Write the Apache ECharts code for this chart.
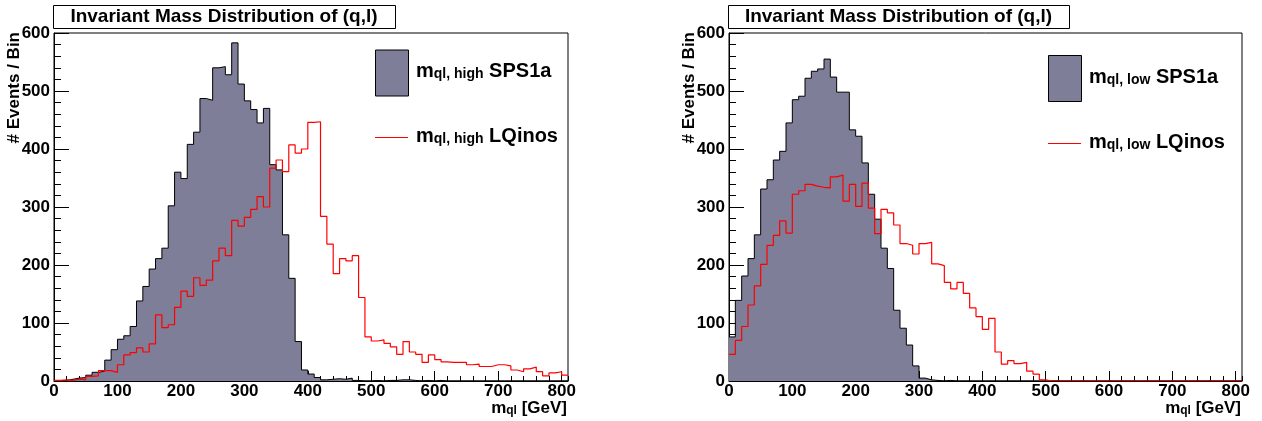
<!DOCTYPE html>
<html><head><meta charset="utf-8">
<script src="https://cdn.jsdelivr.net/npm/echarts@6/dist/echarts.min.js"></script>
<style>html,body{margin:0;padding:0;background:#fff}#c{width:1262px;height:421px}</style>
</head><body><div id="c"></div>
<script>
// ---- data (events per 10 GeV bin, bins start at 0 GeV) ----
const BIN_WIDTH = 10;
const X_MAX = 810;
const TITLE = 'Invariant Mass Distribution of (q,l)';
const Y_TITLE = '# Events / Bin';

const highSPS1a = [0,1,3,5,6,10,15,17,36,54, 72,78,94,138,163,193,211,229,302,360,
  349,408,429,487,484,540,542,528,583,512, 483,468,445,470,373,364,252,177,68,19,
  12,6,2,3,4,3,5,1,0,0, 1,0,1,1,2,2,1,0,1,0, 1,0,0,0,0,0,0,0,0,0, 0,0,0,0,0,0,0,0,0,0,0];
const highLQinos = [1,2,1,3,2,8,9,18,18,15, 28,45,49,57,50,64,114,92,97,127,
  155,146,178,165,174,207,229,216,277,267, 282,296,318,300,367,381,361,407,393,400,
  446,447,284,236,185,211,207,216,144,76, 69,71,65,59,46,68,50,46,32,45,
  37,33,32,32,32,28,29,25,25,28, 28,26,19,16,21,24,16,9,14,16,10];
const lowSPS1a = [76,139,181,211,252,331,347,381,396,445, 485,491,522,534,538,555,524,498,498,433,
  422,376,322,279,229,194,122,91,62,26, 5,2,1,0,1,0,0,0,0,0, 0,0,0,0,0,0,0,0,0,0,
  0,0,0,0,0,0,0,0,0,0, 0,0,0,0,0,0,0,0,0,0, 0,0,0,0,0,0,0,0,0,0,0];
const lowLQinos = [46,70,94,131,164,201,234,251,276,255, 322,328,339,336,334,333,352,355,310,339,
  301,341,298,254,296,290,269,237,234,219, 237,239,202,199,170,159,170,151,126,111,
  89,108,50,29,35,30,32,17,12,2, 0,0,0,0,0,0,0,0,0,0, 0,0,0,0,0,0,0,0,0,0, 0,0,0,0,0,0,0,0,0,0,0];

const GRAY = '#7e7e98';
const RED = '#ff0000';
const FONT = '"Liberation Sans", Arial, Helvetica, sans-serif';

function toSteps(vals){
  const pts = vals.map((v,i)=>[i*BIN_WIDTH, v]);
  pts.push([vals.length*BIN_WIDTH, vals[vals.length-1]]);
  return pts;
}

const grids = [
  {left:54, top:33, width:514, height:348},
  {left:729, top:33, width:513, height:348}
].map(g => Object.assign(g, {show:true, borderColor:'#000', borderWidth:1, backgroundColor:'#fff', containLabel:false}));

const xAxis = [], yAxis = [];
[0,1].forEach(gi => {
  xAxis.push({type:'value', gridIndex:gi, min:0, max:X_MAX, interval:100, position:'bottom',
    axisLine:{show:true, onZero:false, lineStyle:{color:'#000', width:1}},
    axisTick:{show:true, inside:true, length:10, lineStyle:{color:'#000', width:1}},
    axisLabel:{color:'#000', fontFamily:FONT, fontWeight:'bold', fontSize:17, margin:2,
      showMaxLabel:false, formatter: v => (v % 100 === 0 ? String(v) : '')},
    splitLine:{show:false}});
  xAxis.push({type:'value', gridIndex:gi, min:0, max:X_MAX, interval:20, position:'bottom', offset:0,
    axisLine:{show:false}, axisTick:{show:true, inside:true, length:5, lineStyle:{color:'#000', width:1}},
    axisLabel:{show:false}, splitLine:{show:false}});
  yAxis.push({type:'value', gridIndex:gi, min:0, max:600, interval:100,
    axisLine:{show:true, onZero:false, lineStyle:{color:'#000', width:1}},
    axisTick:{show:true, inside:true, length:15, lineStyle:{color:'#000', width:1}},
    minorTick:{show:true, splitNumber:5, length:7, lineStyle:{color:'#000', width:1}},
    axisLabel:{color:'#000', fontFamily:FONT, fontWeight:'bold', fontSize:17, margin:4},
    splitLine:{show:false}, minorSplitLine:{show:false}});
});

function histFilled(vals, gi){
  return {type:'line', xAxisIndex:gi*2, yAxisIndex:gi, data:toSteps(vals), step:'end', symbol:'none',
    showSymbol:false, lineStyle:{color:'#000', width:1}, areaStyle:{color:GRAY, opacity:1}, z:2, silent:true};
}
function histLine(vals, gi){
  return {type:'line', xAxisIndex:gi*2, yAxisIndex:gi, data:toSteps(vals), step:'end', symbol:'none',
    showSymbol:false, lineStyle:{color:RED, width:1.2}, z:3, silent:true};
}

function titleBox(x, w){
  return [
    {type:'rect', shape:{x:x+0.5, y:5.5, width:w, height:23}, style:{fill:'#fff', stroke:'#000', lineWidth:1}, z:10},
    {type:'text', x:x+w/2, y:17, style:{text:TITLE, fontFamily:FONT, fontWeight:'bold', fontSize:19, fill:'#000', align:'center', verticalAlign:'middle'}, z:11}
  ];
}
const legRich = {
  m:{fontFamily:FONT, fontWeight:'bold', fontSize:20, fill:'#000', lineHeight:24, verticalAlign:'bottom'},
  s:{fontFamily:FONT, fontWeight:'bold', fontSize:14, fill:'#000', lineHeight:8, verticalAlign:'bottom'}
};
function legend(x, y1, y2, sub){
  return [
    {type:'rect', shape:{x:x+0.5, y:y1-19.5, width:33, height:46}, style:{fill:GRAY, stroke:'#000', lineWidth:1}, z:10},
    {type:'text', x:x+41, y:y1, style:{text:'{m|m}{s|ql, '+sub+'}{m| SPS1a}', rich:legRich, align:'left', verticalAlign:'middle'}, z:11},
    {type:'line', shape:{x1:x, y1:y2+3.5, x2:x+33, y2:y2+3.5}, style:{stroke:RED, lineWidth:1.2}, z:10},
    {type:'text', x:x+41, y:y2, style:{text:'{m|m}{s|ql, '+sub+'}{m| LQinos}', rich:legRich, align:'left', verticalAlign:'middle'}, z:11}
  ];
}
const axRich = {
  m:{fontFamily:FONT, fontWeight:'bold', fontSize:17, fill:'#000', lineHeight:20, verticalAlign:'bottom'},
  s:{fontFamily:FONT, fontWeight:'bold', fontSize:12, fill:'#000', lineHeight:8, verticalAlign:'bottom'}
};
function axisTitles(xRight, yTitleX){
  return [
    {type:'text', x:xRight, y:407, style:{text:'{m|m}{s|ql}{m| [GeV]}', rich:axRich, align:'right', verticalAlign:'middle'}, z:11},
    {type:'text', x:yTitleX, y:32, rotation:Math.PI/2, style:{text:Y_TITLE, fontFamily:FONT, fontWeight:'bold', fontSize:17, fill:'#000', align:'right', verticalAlign:'middle'}, z:11}
  ];
}

const chart = echarts.init(document.getElementById('c'), null, {renderer:'canvas'});
chart.setOption({
  animation:false,
  backgroundColor:'#fff',
  grid:grids, xAxis:xAxis, yAxis:yAxis,
  series:[histFilled(highSPS1a,0), histLine(highLQinos,0), histFilled(lowSPS1a,1), histLine(lowLQinos,1)],
  graphic:[].concat(
    titleBox(53, 342), titleBox(728, 341),
    legend(375, 69.5, 134, 'high'), legend(1048, 75, 140, 'low'),
    axisTitles(567, 14), axisTitles(1241, 689)
  )
});
</script></body></html>
